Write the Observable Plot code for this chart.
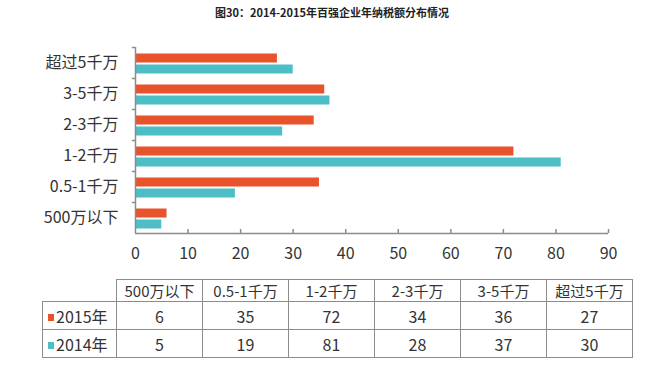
<!DOCTYPE html>
<html><head><meta charset="utf-8">
<script src="https://cdn.jsdelivr.net/npm/d3@7"></script>
<script src="https://cdn.jsdelivr.net/npm/@observablehq/plot@0.6"></script>
<style>
html,body{margin:0;padding:0;background:#fff;}
body{width:660px;height:387px;position:relative;overflow:hidden;font-family:"Noto Sans CJK SC","Noto Sans",sans-serif;color:#333;}
#title{position:absolute;left:0;top:0;width:664px;height:24px;line-height:24px;text-align:center;font-size:11px;font-weight:bold;color:#222;}
#chart{position:absolute;left:0;top:24px;}
#tbl{position:absolute;left:42px;top:279px;border-collapse:collapse;table-layout:fixed;}
#tbl td{border:1.5px solid #8c8c8c;text-align:center;padding:0;color:#333;white-space:nowrap;}
#tbl td.blank{border:none;}
#tbl tr.h td{height:20px;font-size:15px;}
#tbl tr.r td{height:27px;font-size:16px;}
#tbl td.lab{text-align:left;padding-left:5px;font-size:16px;}
.sw{display:inline-block;width:6px;height:7px;margin-right:2px;vertical-align:2px;}
</style></head>
<body>
<div id="title">图30：2014-2015年百强企业年纳税额分布情况</div>
<div id="chart"></div>
<table id="tbl"></table>
<script>
const categories = ["500万以下","0.5-1千万","1-2千万","2-3千万","3-5千万","超过5千万"];
const years = ["2015年","2014年"];
const values2015 = [6,35,72,34,36,27];
const values2014 = [5,19,81,28,37,30];
const xTicks = [0,10,20,30,40,50,60,70,80,90];
const colors = {"2015年":"#E9532B","2014年":"#4DBDC6"};

const d2015 = categories.map((c,i)=>({cat:c, value:values2015[i]}));
const d2014 = categories.map((c,i)=>({cat:c, value:values2014[i]}));
const yDomain = categories.slice().reverse();

const chart = Plot.plot({
  width: 660,
  height: 239,
  marginTop: 23,
  marginBottom: 30,
  marginLeft: 135,
  marginRight: 52,
  style: {fontFamily: '"Noto Sans CJK SC","Noto Sans",sans-serif', fontSize: "14px", color: "#333", background: "#fff", overflow: "visible"},
  x: {domain: [0, 90], ticks: xTicks, label: null},
  y: {domain: yDomain, padding: 0, label: null},
  marks: [
    Plot.barX(d2015, {x: "value", y: "cat", fill: colors["2015年"], insetTop: 11, insetBottom: 11, dy: -4.5}),
    Plot.barX(d2014, {x: "value", y: "cat", fill: colors["2014年"], insetTop: 11, insetBottom: 11, dy: 6.5}),
    Plot.ruleY(yDomain, {y: d => d, x1: -0.6, x2: 0, dy: -15.5, stroke: "#8c8c8c", strokeWidth: 1.5}),
    Plot.tickX(xTicks.slice(1), {x: d => d, y: () => categories[0], insetTop: 27, stroke: "#8c8c8c", strokeWidth: 1.5}),
    Plot.ruleX([0], {stroke: "#8c8c8c", strokeWidth: 1.5}),
    Plot.ruleY([categories[0]], {y: d => d, dy: 15.5, x1: 0, x2: 90, stroke: "#8c8c8c", strokeWidth: 1.5}),
    Plot.axisX({ticks: xTicks, tickSize: 0, tickPadding: 14, fontSize: 16, label: null, tickFormat: d => String(d)}),
    Plot.axisY({tickSize: 0, tickPadding: 17, fontSize: 16, label: null})
  ]
});
document.getElementById("chart").appendChild(chart);

// table built from the same arrays
const tbl = document.getElementById("tbl");
const colg = document.createElement("colgroup");
const c0 = document.createElement("col"); c0.style.width = "74px"; colg.appendChild(c0);
categories.forEach(()=>{const c=document.createElement("col"); c.style.width="86px"; colg.appendChild(c);});
tbl.appendChild(colg);
const hr = document.createElement("tr"); hr.className = "h";
const blank = document.createElement("td"); blank.className = "blank"; hr.appendChild(blank);
categories.forEach(c=>{const td=document.createElement("td"); td.textContent=c; hr.appendChild(td);});
tbl.appendChild(hr);
[[years[0], values2015],[years[1], values2014]].forEach(([y, vals])=>{
  const tr = document.createElement("tr"); tr.className = "r";
  const lab = document.createElement("td"); lab.className = "lab";
  const sw = document.createElement("span"); sw.className = "sw"; sw.style.background = colors[y];
  lab.appendChild(sw); lab.appendChild(document.createTextNode(y));
  tr.appendChild(lab);
  vals.forEach(v=>{const td=document.createElement("td"); td.textContent=v; tr.appendChild(td);});
  tbl.appendChild(tr);
});
</script>
</body></html>
